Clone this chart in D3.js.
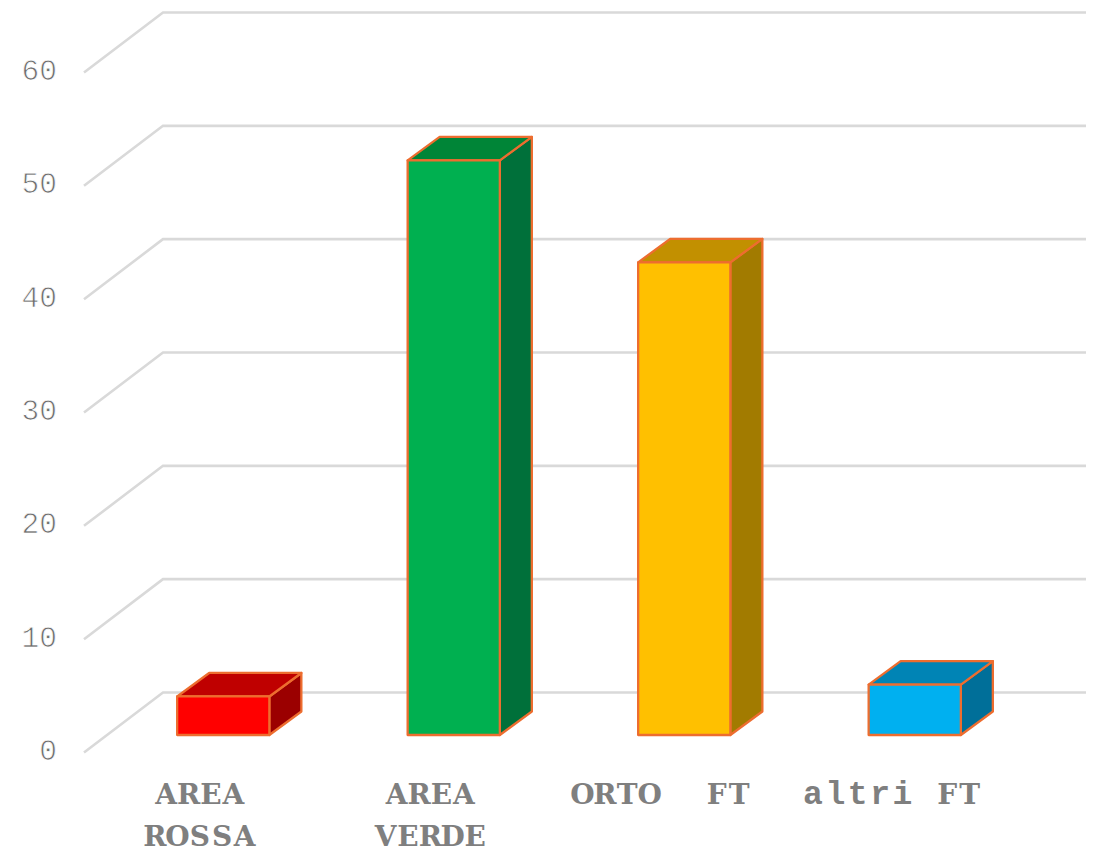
<!DOCTYPE html>
<html><head><meta charset="utf-8">
<script src="https://cdn.jsdelivr.net/npm/d3@7"></script>
<style>html,body{margin:0;padding:0;background:#fff}svg{display:block}</style></head>
<body><svg id="c" width="1102" height="848"></svg>
<script>
const categories = ["AREA ROSSA","AREA VERDE","ORTO FT","altri FT"];
const values = [3.4, 50.7, 41.7, 4.45];
const labelLines = [["AREA","ROSSA"],["AREA","VERDE"],["ORTO\u00A0\u00A0FT"],["altri\u00A0FT"]];
const faceColors = ["#FF0000","#00B050","#FFC000","#00B0F0"];
const topColors = ["#BF0000","#008537","#C29000","#0084B5"];
const sideColors = ["#9B0000","#00703A","#A27B00","#006F99"];
const yTicks = [0,10,20,30,40,50,60];

const svg = d3.select("#c");
const y = d3.scaleLinear().domain([0,60]).range([692.5,12.5]);
const x = d3.scaleBand().domain(categories).range([108,1030]).paddingInner(0.6).paddingOuter(0.3);
const wallX = 163, wallEnd = 1086, floorDx = 79, floorDy = 60;
const barFront = 42.5, depthX = 32, depthY = 23.5;

// Gridlines
const grid = svg.append("g").attr("fill","none").attr("stroke","#D9D9D9").attr("stroke-width",2.6);
grid.selectAll("path").data(yTicks).join("path")
  .attr("d", d => `M${wallX-floorDx},${y(d)+floorDy}L${wallX},${y(d)}L${wallEnd},${y(d)}`);

// Tick labels: thin strokes, as in the reference's light monospace
svg.append("g").attr("font-family","'Liberation Mono'").attr("font-size",29.5).attr("fill","#6E6E6E")
  .attr("stroke","#fff").attr("stroke-width",0.75).attr("text-anchor","end")
  .selectAll("text").data(yTicks).join("text")
  .attr("x",57).attr("y",d=>y(d)+floorDy+7.5).text(d=>d);

// Bars
const bars = svg.append("g").attr("stroke","#ED6D2F").attr("stroke-width",2.3).attr("stroke-linejoin","round")
  .selectAll("g").data(categories).join("g");
const x0 = (d)=>x(d), x1 = (d)=>x(d)+x.bandwidth();
const base = y(0)+barFront;
const top_ = (i)=>y(values[i])+barFront;
bars.append("path").attr("fill",(d,i)=>sideColors[i])
  .attr("d",(d,i)=>`M${x1(d)},${base}L${x1(d)+depthX},${base-depthY}L${x1(d)+depthX},${top_(i)-depthY}L${x1(d)},${top_(i)}Z`);
bars.append("path").attr("fill",(d,i)=>topColors[i])
  .attr("d",(d,i)=>`M${x0(d)},${top_(i)}L${x0(d)+depthX},${top_(i)-depthY}L${x1(d)+depthX},${top_(i)-depthY}L${x1(d)},${top_(i)}Z`);
bars.append("rect").attr("fill",(d,i)=>faceColors[i])
  .attr("x",d=>x0(d)).attr("width",x.bandwidth()).attr("y",(d,i)=>top_(i)).attr("height",(d,i)=>base-top_(i));

// Category labels, set on a fixed monospace pitch
const pitch = 22.4;
const lab = svg.append("g").attr("font-family","'DejaVu Serif'").attr("font-weight","bold").attr("font-size",28).attr("fill","#7F7F7F").attr("text-anchor","middle");
categories.forEach((c,i)=>{
  labelLines[i].forEach((t,j)=>{
    const cx = x(c)+x.bandwidth()/2-23.5;
    const xs = Array.from(t,(ch,k)=>(cx+(k-(t.length-1)/2)*pitch).toFixed(1)).join(" ");
    const el = lab.append("text").attr("x",xs).attr("y",803.5+j*42);
    // lowercase letters use the wide-serif monospace face
    (t.match(/[a-z]+|[^a-z]+/g)).forEach(run=>{
      const s = el.append("tspan").text(run);
      if (/[a-z]/.test(run)) s.attr("font-family","'Liberation Mono'").attr("font-size",33);
    });
  });
});
</script></body></html>
